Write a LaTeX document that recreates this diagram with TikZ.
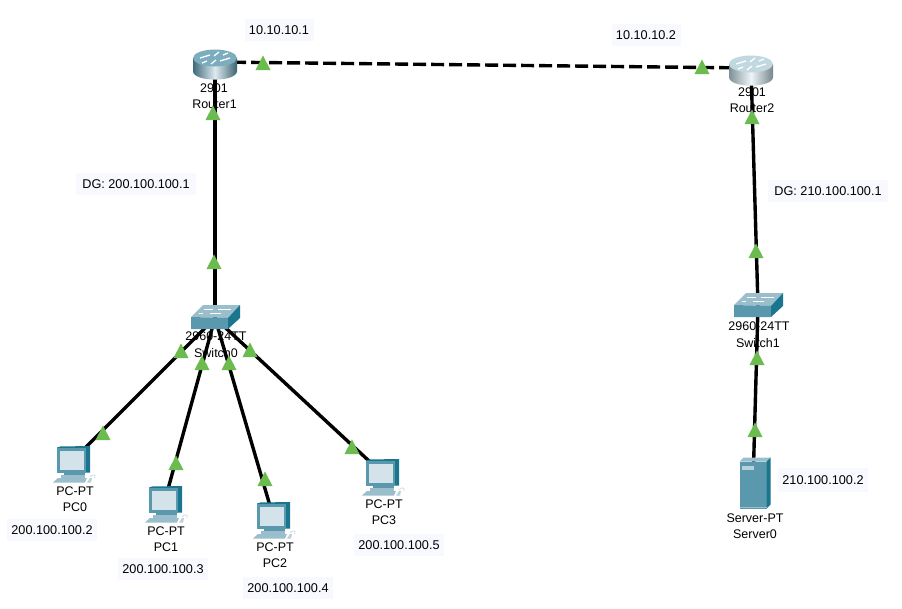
\documentclass[tikz,border=0pt]{standalone}
\usepackage{fontspec}
\setmainfont{Liberation Sans}
\definecolor{linkgreen}{HTML}{6CBB4F}
\definecolor{labelbg}{HTML}{F8F9FF}
\definecolor{teal1}{HTML}{5A98AE}
\definecolor{teal2}{HTML}{9ABECC}
\definecolor{teal3}{HTML}{1A768E}
\definecolor{screen}{HTML}{D4E3EA}
\tikzset{
  x=1pt,y=-1pt,
  devlabel/.style={inner sep=0pt,align=center,font=\fontsize{12.5}{16}\selectfont,text=black},
  iplabel/.style={inner sep=0pt,fill=labelbg,minimum height=22pt,minimum width=69pt,font=\fontsize{12.7}{15}\selectfont,text=black},
  cable/.style={line width=3.4pt,black},
  serial/.style={line width=3.4pt,black,dash pattern=on 13pt off 5pt},
  anchorpt/.style={inner sep=0pt,minimum size=0pt},
  linkup/.pic={\fill[linkgreen] (-7.5,7) -- (0,-7.5) -- (7.5,7) -- cycle;},
  routerpic/.pic={
    \path[left color=#1!70!black,right color=#1!65!black,middle color=#1!20!white]
      (-22,-4) -- (-22,9) .. controls (-22,20.5) and (22,20.5) .. (22,9) -- (22,-4) -- cycle;
    \fill[#1!80!white] (0,-4) ellipse[x radius=22,y radius=8.5];
    \draw[white,line width=1.3pt] (-15,-4) -- (-5,-7) (15,-4) -- (5,-1) (4,-10) -- (-1,-6) (-4,2) -- (1,-2) (-8,-1) -- (-13,1) (8,-7) -- (13,-9);
  },
  switchpic/.pic={
    \fill[teal2] (-24,-1) -- (-12,-13) -- (25,-13) -- (13,0) -- cycle;
    \fill[teal1] (-24,-1) -- (13,0) -- (13,11) -- (-24,11) -- cycle;
    \fill[teal3] (13,0) -- (25,-13) -- (25,0) -- (13,11) -- cycle;
    \draw[white,line width=.9pt] (-11,-9) -- (-2,-9) (3,-9) -- (16,-9) (-16,-5) -- (-12,-5) (-5,-5) -- (6,-5);
  },
  pcpic/.pic={
    \fill[teal3] (-16,-12.5) -- (-13,-13.5) -- (17,-14) -- (17,12.5) -- (-16,12.5) -- cycle;
    \fill[teal1] (-16,-12.5) -- (13,-12.5) -- (13,12.5) -- (-16,12.5) -- cycle;
    \fill[screen] (-13.5,-9.5) rectangle (10.5,9.5);
    \fill[teal1] (-9,12.5) rectangle (12,15);
    \fill[teal2] (-12,15) rectangle (12,18);
    \fill[teal2] (-20,22.5) -- (-15,18) -- (14,18) -- (12,22.5) -- cycle;
    \fill[teal2!70!white] (14,22.5) -- (17,18) -- (19,18) -- (18,22.5) -- cycle;
    \draw[teal2!60!white,line width=.6pt] (17,17) .. controls (20,13) and (23,15) .. (22,18);
  },
  serverpic/.pic={
    \fill[teal1] (-13.5,-23.5) rectangle (13.5,23.5);
    \fill[teal2] (-13.5,-23.5) -- (-9.5,-27.5) -- (17.5,-27.5) -- (13.5,-23.5) -- cycle;
    \fill[teal3] (13.5,-23.5) -- (17.5,-27.5) -- (17.5,19.5) -- (13.5,23.5) -- cycle;
    \fill[teal2!70!white] (-11.5,-19.5) rectangle (0.5,-15.5);
    \fill[teal2] (-13.5,21.5) rectangle (13.5,23);
  },
}
\begin{document}
\begin{tikzpicture}
\useasboundingbox (0,0) rectangle (902,608);
\fill[white] (0,0) rectangle (902,608);
% device anchors
\node[anchorpt] (r1) at (215,62) {};
\node[anchorpt] (r2) at (751,68) {};
\node[anchorpt] (sw0) at (215,318) {};
\node[anchorpt] (sw1) at (758,306) {};
\node[anchorpt] (pc0) at (73,460) {};
\node[anchorpt] (pc1) at (165,500) {};
\node[anchorpt] (pc2) at (273,516) {};
\node[anchorpt] (pc3) at (382,473) {};
\node[anchorpt] (srv) at (753,485) {};
% connectors
\draw[serial] (r1) -- (r2);
\draw[cable] (r1) -- (sw0);
\draw[cable] (r2) -- (sw1);
\draw[cable] (sw1) -- (srv);
\draw[cable] (sw0) -- (pc0);
\draw[cable] (sw0) -- (pc1);
\draw[cable] (sw0) -- (pc2);
\draw[cable] (sw0) -- (pc3);
% devices
\pic at (r1) {routerpic=teal1};
\pic at (r2) {routerpic=teal2!75!white};
\pic at (sw0) {switchpic};
\pic at (sw1) {switchpic};
\pic at (pc0) {pcpic};
\pic at (pc1) {pcpic};
\pic at (pc2) {pcpic};
\pic at (pc3) {pcpic};
\pic at (srv) {serverpic};
% device labels
\node[devlabel] (lr1a) at (214,88) {2901};
\node[devlabel] (lr1b) at (214.5,104) {Router1};
\node[devlabel] (lr2a) at (752,92) {2901};
\node[devlabel] (lr2b) at (752,108) {Router2};
\node[devlabel] (ls0a) at (216,336) {2960-24TT};
\node[devlabel] (ls0b) at (216,353) {Switch0};
\node[devlabel] (ls1a) at (759,326) {2960-24TT};
\node[devlabel] (ls1b) at (758,343) {Switch1};
\node[devlabel] (lp0a) at (75,491) {PC-PT};
\node[devlabel] (lp0b) at (75,507) {PC0};
\node[devlabel] (lp1a) at (166,531) {PC-PT};
\node[devlabel] (lp1b) at (166,547) {PC1};
\node[devlabel] (lp2a) at (275,547) {PC-PT};
\node[devlabel] (lp2b) at (275,563) {PC2};
\node[devlabel] (lp3a) at (384,504) {PC-PT};
\node[devlabel] (lp3b) at (384,520) {PC3};
\node[devlabel] (lsva) at (755,518) {Server-PT};
\node[devlabel] (lsvb) at (755,534) {Server0};
% link lights
\foreach \lx/\ly in {213/113,214/262,263/63,702/67,752/117,756/251,757/358,755/430,181/351,202/363,229/363,250/350,103/433,176/463,265/479,352/447}
  \pic at (\lx,\ly) {linkup};
% note labels
\node[iplabel] (n1) at (279,30) {10.10.10.1};
\node[iplabel] (n2) at (646,35) {10.10.10.2};
\node[iplabel,minimum width=120pt] (n3) at (136,184) {DG: 200.100.100.1};
\node[iplabel,minimum width=120pt] (n4) at (828,191) {DG: 210.100.100.1};
\node[iplabel,minimum width=90pt,minimum height=24pt] (n5) at (823,480) {210.100.100.2};
\node[iplabel,minimum width=90pt] (n6) at (52,530) {200.100.100.2};
\node[iplabel,minimum width=90pt] (n7) at (163,569) {200.100.100.3};
\node[iplabel,minimum width=90pt] (n8) at (288,588) {200.100.100.4};
\node[iplabel,minimum width=90pt] (n9) at (399,545) {200.100.100.5};
\end{tikzpicture}
\end{document}
